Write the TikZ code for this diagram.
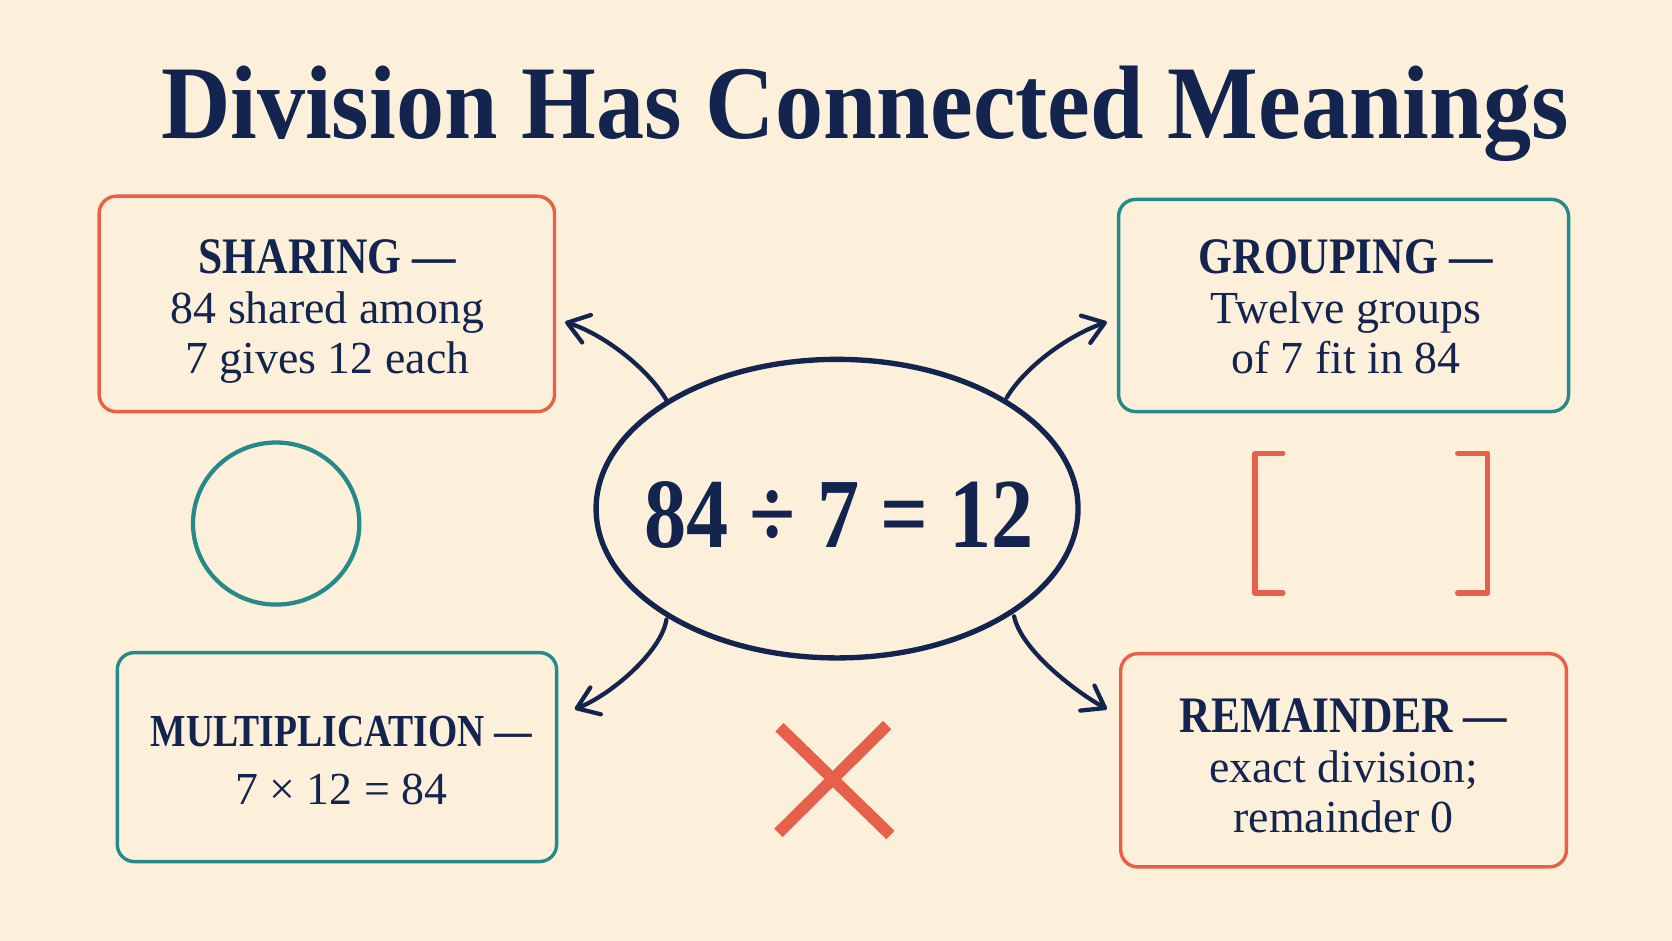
\documentclass[tikz,border=0pt]{standalone}
\usepackage{fontspec}
\setmainfont{Liberation Serif}
\newfontfamily\titlefont{Liberation Serif}[FakeStretch=0.92]
\newfontfamily\headfont{Liberation Serif}[FakeStretch=0.85]
\newfontfamily\multfont{Liberation Serif}[FakeStretch=0.82]
\newfontfamily\eqfont{Liberation Serif}[FakeStretch=0.85]
\usetikzlibrary{arrows.meta,shapes.geometric}
\definecolor{bgc}{HTML}{FCF0DB}
\definecolor{navy}{HTML}{13244F}
\definecolor{coral}{HTML}{E6604B}
\definecolor{tealc}{HTML}{26898A}
\newcommand\hdr[1]{{\headfont\bfseries\fontsize{48}{47}\selectfont #1}}
\newcommand\hdrm[1]{{\multfont\bfseries\fontsize{43}{47}\selectfont #1}}
\tikzset{
  box/.style={draw, line width=3.2pt, rounded corners=16pt, inner sep=0pt},
  boxtext/.style={align=center, text=navy, inner sep=0pt, font=\fontsize{43}{47}\selectfont},
  arr/.style={draw=navy, line width=4pt, line cap=round, -{Straight Barb[round,length=19pt,width=27pt]}},
}
\begin{document}
\begin{tikzpicture}[x=1pt,y=-1pt]
\useasboundingbox (0,0) rectangle (1568,882);
\fill[bgc] (0,0) rectangle (1568,882);
% title
\node[anchor=base, text=navy, inner sep=0pt, font=\titlefont\bfseries\fontsize{98}{100}\selectfont] (title) at (811,130) {Division Has Connected Meanings};
% boxes
\node[box, draw=coral, minimum width=427pt, minimum height=202pt] (sh) at (306.5,285) {};
\node[boxtext] (sht) at (307,292) {\hdr{SHARING —}\\84 shared among\\7 gives 12 each};
\node[box, draw=tealc, minimum width=422pt, minimum height=199pt] (gr) at (1260,286.5) {};
\node[boxtext] (grt) at (1262,288) {\hdr{GROUPING —}\\Twelve groups\\of 7 fit in 84};
\node[box, draw=tealc, minimum width=412pt, minimum height=196pt] (mu) at (316,710) {};
\node[boxtext] (mut) at (320,713) {\hdrm{MULTIPLICATION —}\\[7pt]7 × 12 = 84};
\node[box, draw=coral, minimum width=418pt, minimum height=200pt] (re) at (1260,713) {};
\node[boxtext] (ret) at (1260,718) {\hdr{REMAINDER —}\\exact division;\\remainder 0};
% central ellipse
\node[ellipse, draw=navy, line width=5pt, minimum width=452pt, minimum height=280pt, inner sep=0pt] (eq) at (785,477) {};
\node[anchor=base, text=navy, inner sep=0pt, font=\eqfont\bfseries\fontsize{93}{93}\selectfont] (eqt) at (787,513) {84 ÷ 7 = 12};
% decorations
\node[ellipse, draw=tealc, line width=4pt, minimum width=156pt, minimum height=152pt, inner sep=0pt] (circ) at (259,491) {};
\draw[coral, line width=5pt, line cap=round, line join=round] (1203,425) -- (1177,425) -- (1177,556) -- (1203,556);
\draw[coral, line width=5pt, line cap=round, line join=round] (1367,425) -- (1395,425) -- (1395,556) -- (1367,556);
\draw[coral, line width=11pt] (731,682) -- (835,783);
\draw[coral, line width=11pt] (832,680) -- (730,781);
% connectors
\coordinate (a1s) at (626,377);
\coordinate (a1e) at (530,302);
\coordinate (a2s) at (944,373);
\coordinate (a2e) at (1038,302);
\coordinate (a3s) at (625,581);
\coordinate (a3e) at (539,665);
\coordinate (a4s) at (951,578);
\coordinate (a4e) at (1038,665);
\draw[arr] (a1s) .. controls (608,345) and (565,313) .. (a1e);
\draw[arr] (a2s) .. controls (962,343) and (1003,314) .. (a2e);
\draw[arr] (a3s) .. controls (620,612) and (572,652) .. (a3e);
\draw[arr] (a4s) .. controls (958,610) and (1008,648) .. (a4e);
\end{tikzpicture}
\end{document}
